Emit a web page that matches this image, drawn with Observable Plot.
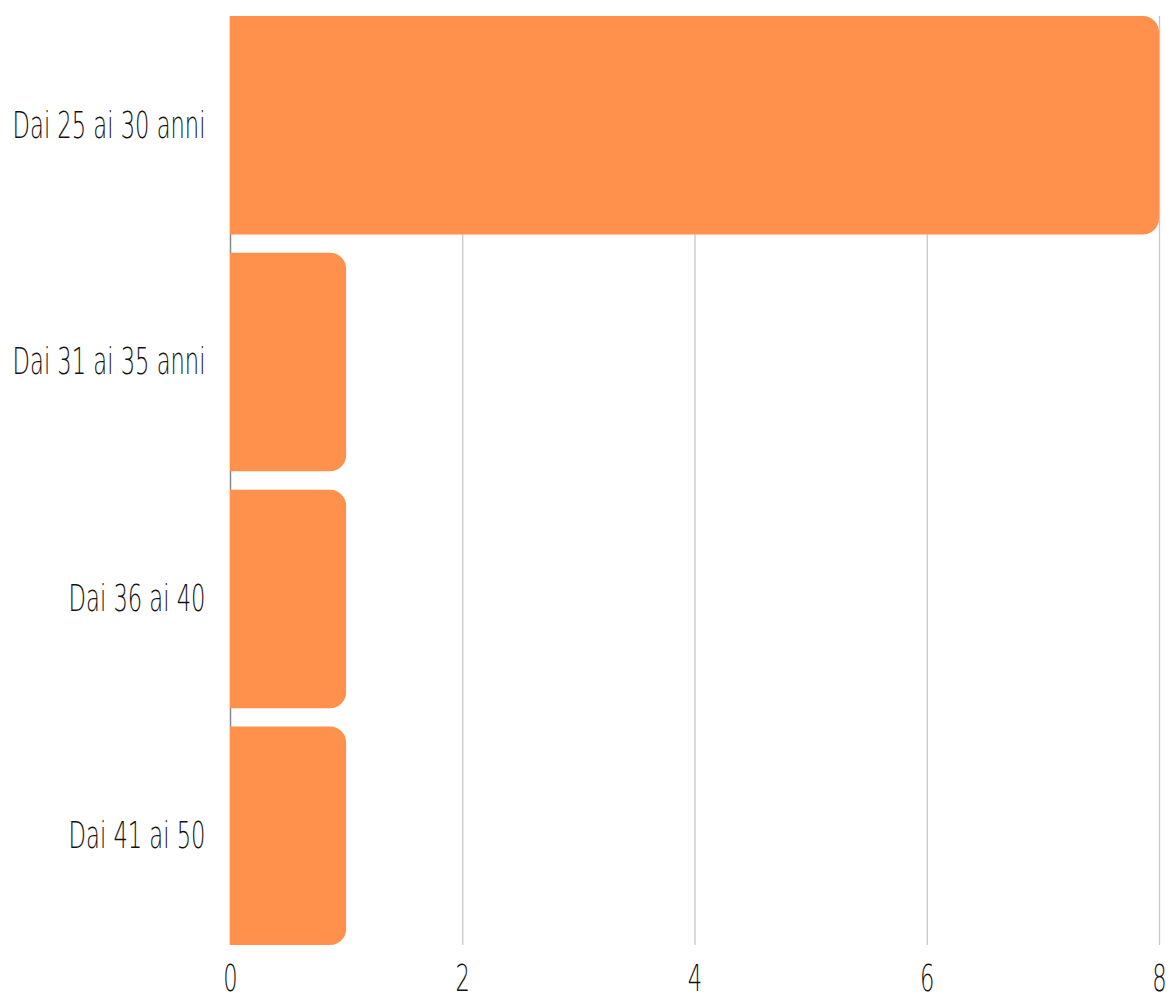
<!DOCTYPE html>
<html>
<head>
<meta charset="utf-8">
<script src="https://cdn.jsdelivr.net/npm/d3@7"></script>
<script src="https://cdn.jsdelivr.net/npm/@observablehq/plot@0.6"></script>
<style>
  body { margin: 0; background: #fff; }
  svg { font-family: "DejaVu Sans", sans-serif; font-weight: 200; }
</style>
</head>
<body>
<div id="chart"></div>
<script>
const categories = ["Dai 25 ai 30 anni", "Dai 31 ai 35 anni", "Dai 36 ai 40", "Dai 41 ai 50"];
const values = [8, 1, 1, 1];
const xTicks = [0, 2, 4, 6, 8];

const data = categories.map((c, i) => ({category: c, value: values[i]}));
const barColor = "#FF914D";

const chart = Plot.plot({
  width: 1170,
  height: 1000,
  marginLeft: 230,
  marginRight: 11,
  marginTop: 16,
  marginBottom: 55,
  style: {fontSize: "37px", color: "#111", background: "#fff"},
  x: {domain: [0, 8], ticks: xTicks, label: null, tickSize: 0, tickPadding: 19},
  y: {domain: categories, label: null, tickSize: 0, tickPadding: 25, paddingInner: 0.078, paddingOuter: 0, round: false},
  marks: [
    Plot.ruleX(xTicks.filter(d => d !== 0), {stroke: "#c8c8c8", strokeWidth: 1.3, strokeOpacity: 1}),
    Plot.ruleX([0], {stroke: "#888", strokeWidth: 1.5}),
    Plot.barX(data, {y: "category", x1: d => -0.3, x2: "value", fill: barColor, rx: 16, clip: true})
  ]
});
document.getElementById("chart").appendChild(chart);

// condense tick labels horizontally to mimic the narrow typeface
const labels = chart.querySelectorAll('g[aria-label$="tick label"] text');
let ref = null;
labels.forEach(t => { if (t.textContent === categories[0]) ref = t; });
const k = ref ? 193 / ref.getBBox().width : 0.7;
labels.forEach(t => {
  const tr = t.getAttribute("transform");
  if (tr) t.setAttribute("transform", tr + ` scale(${k},1)`);
});
</script>
</body>
</html>
